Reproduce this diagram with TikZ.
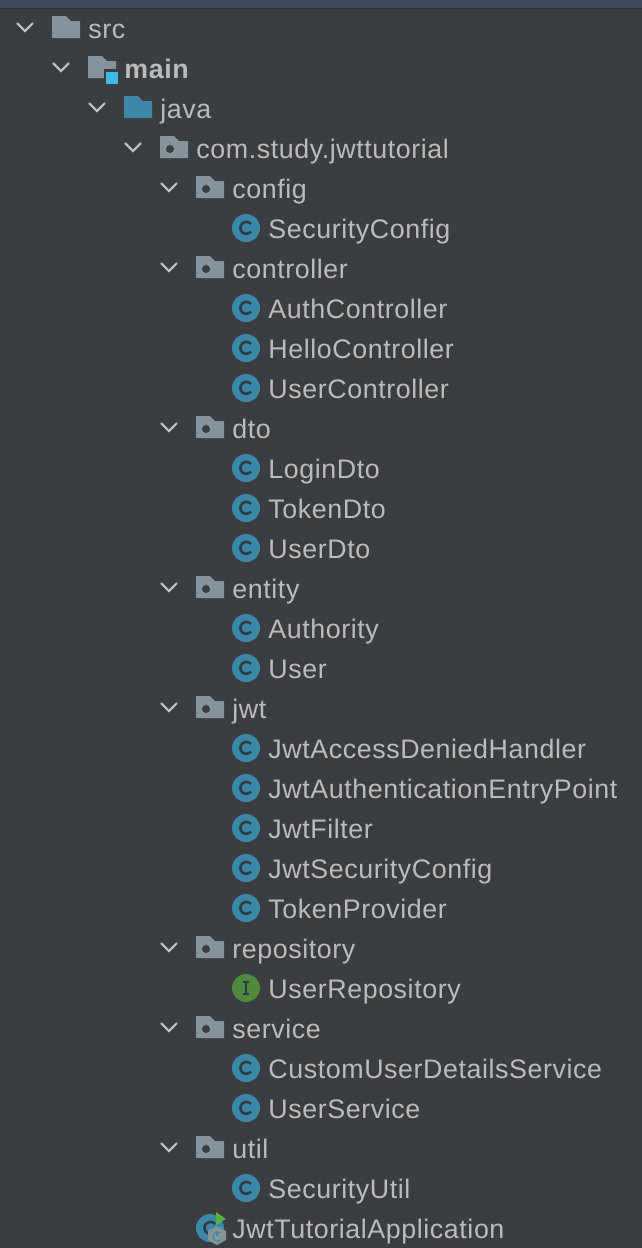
\documentclass[tikz,border=0pt]{standalone}
\usepackage{fontspec}
\setmainfont{Liberation Sans}[LetterSpace=2.2]
\definecolor{panelbg}{HTML}{3B3E41}
\definecolor{headbar}{HTML}{3C4A5C}
\definecolor{headline}{HTML}{2E3134}
\definecolor{treetext}{HTML}{BBBBBB}
\definecolor{foldergray}{HTML}{87939A}
\definecolor{javablue}{HTML}{3D88A8}
\definecolor{modblue}{HTML}{3DB8E8}
\definecolor{classblue}{HTML}{3B87A8}
\definecolor{glyphdark}{HTML}{2F3B45}
\definecolor{ifacegreen}{HTML}{4F8A3C}
\definecolor{rungreen}{HTML}{57B33F}
\tikzset{
    treelabel/.style={anchor=base west, inner sep=0pt, text=treetext, font=\fontsize{13.4}{13}\selectfont},
    pics/chevron/.style={code={
        \draw[treetext, line width=1.1pt] (-8,-4) -- (0,4) -- (8,-4);
    }},
    pics/foldericon/.style={code={
        \fill[#1] (-14,-13) -- (0,-13) -- (5,-8) -- (14,-8) -- (14,9) -- (-14,9) -- cycle;
    }},
    pics/pkgicon/.style={code={
        \fill[foldergray] (-14,-13) -- (0,-13) -- (5,-8) -- (14,-8) -- (14,9) -- (-14,9) -- cycle;
        \fill[panelbg] (-4,0) circle (4);
    }},
    pics/classicon/.style={code={
        \fill[classblue] (0,0) circle (14);
        \draw[glyphdark, line width=1.3pt] (5,-4) arc[start angle=-40, end angle=-320, radius=6];
    }},
    pics/ifaceicon/.style={code={
        \fill[ifacegreen] (0,0) circle (14);
        \draw[glyphdark, line width=1pt] (-3,-6) -- (3,-6) (0,-6) -- (0,6) (-3,6) -- (3,6);
    }},
}
\begin{document}
\begin{tikzpicture}[x=0.5pt, y=-0.5pt]
    \useasboundingbox (0,0) rectangle (642,1248);
    % background
    \fill[panelbg] (0,0) rectangle (642,1248);
    \fill[headbar] (0,0) rectangle (642,8);
    \fill[headline] (0,8) rectangle (642,9);

    % top of the tree
    \pic at (25,27) {chevron};
    \pic at (66,29) {foldericon=foldergray};
    \node[treelabel] (src) at (88,38) {src};

    \pic at (61,67) {chevron};
    \pic at (102,69) {foldericon=foldergray};
    \fill[panelbg] (104,69) rectangle (120,86);
    \fill[modblue] (106,72) rectangle (118,84);
    \node[treelabel, font=\fontsize{13.4}{13}\selectfont\bfseries] (main) at (124,78) {main};

    \pic at (97,107) {chevron};
    \pic at (138,109) {foldericon=javablue};
    \node[treelabel] (java) at (160,118) {java};

    \pic at (133,147) {chevron};
    \pic at (174,149) {pkgicon};
    \node[treelabel] (basepkg) at (196,158) {com.study.jwttutorial};

    % packages
    \foreach \row/\name in {4/config, 6/controller, 10/dto, 14/entity, 17/jwt, 23/repository, 25/service, 28/util} {
        \pic at (169,{27+40*\row}) {chevron};
        \pic at (210,{29+40*\row}) {pkgicon};
        \node[treelabel] (\name) at (232,{38+40*\row}) {\name};
    }

    % classes
    \foreach \row/\name in {5/SecurityConfig, 7/AuthController, 8/HelloController, 9/UserController,
        11/LoginDto, 12/TokenDto, 13/UserDto, 15/Authority, 16/User,
        18/JwtAccessDeniedHandler, 19/JwtAuthenticationEntryPoint, 20/JwtFilter, 21/JwtSecurityConfig, 22/TokenProvider,
        26/CustomUserDetailsService, 27/UserService, 29/SecurityUtil} {
        \pic at (246,{28+40*\row}) {classicon};
        \node[treelabel] (\name) at (268,{38+40*\row}) {\name};
    }

    % interface
    \pic at (246,988) {ifaceicon};
    \node[treelabel] (UserRepository) at (268,998) {UserRepository};

    % application class
    \pic at (210,1228) {classicon};
    \fill[rungreen] (216,1212) -- (226,1219) -- (216,1225) -- cycle;
    \fill[foldergray] (226,1240) -- (217,1245) -- (208,1240) -- (208,1231) -- (217,1226) -- (226,1231) -- cycle;
    \draw[classblue, line width=0.6pt] (217,1231) -- (217,1236);
    \draw[classblue, line width=0.6pt] (220.5,1233) arc[start angle=-50, end angle=-310, radius=4.6];
    \node[treelabel] (JwtTutorialApplication) at (232,1238) {JwtTutorialApplication};
\end{tikzpicture}
\end{document}
